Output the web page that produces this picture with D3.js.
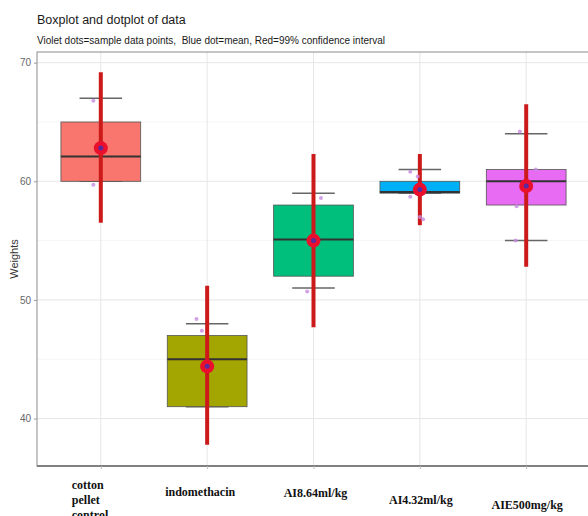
<!DOCTYPE html>
<html>
<head>
<meta charset="utf-8">
<script src="https://cdn.jsdelivr.net/npm/d3@7"></script>
<style>
  body { margin: 0; background: #fff; }
  svg { display: block; }
</style>
</head>
<body>
<div id="viz"></div>
<script>
// values
const categories = ['cotton pellet control', 'indomethacin', 'AI8.64ml/kg', 'AI4.32ml/kg', 'AIE500mg/kg'];
const labelLines = [['cotton', 'pellet', 'control'], ['indomethacin'], ['AI8.64ml/kg'], ['AI4.32ml/kg'], ['AIE500mg/kg']];
const boxColors = ['#F8766D', '#A3A500', '#00BF7D', '#00B0F6', '#E76BF3'];

const q1 = [60, 41, 52, 59, 58];
const medians = [62.1, 45, 55.1, 59.1, 60];
const q3 = [65, 47, 58, 60, 61];
const whiskerLow = [60, 41, 51, 59, 55];
const whiskerHigh = [67, 48, 59, 61, 64];
const means = [62.8, 44.4, 55, 59.3, 59.6];
const ciLow = [56.5, 37.8, 47.7, 56.3, 52.8];
const ciHigh = [69.2, 51.2, 62.3, 62.3, 66.5];

const dotGroups = [0, 0, 1, 1, 2, 2, 3, 3, 3, 3, 3, 4, 4, 4, 4];
const dotValues = [66.8, 59.7, 48.4, 47.4, 58.6, 50.7, 60.8, 60.4, 58.7, 57.0, 56.8, 64.2, 61.0, 57.9, 55.0];
const dotJitter = [-0.07, -0.07, -0.10, -0.05, 0.07, -0.06, -0.09, -0.02, -0.09, 0.0, 0.03, -0.06, 0.09, -0.09, -0.10];

const yTicks = [40, 50, 60, 70];
const yMinor = [45, 55, 65];

// label placement tweaks (the reference labels sit at uneven heights)
const labelShift = [{dx: -29, dy: -1, anchor: 'start'}, {dx: -7, dy: 6, anchor: 'middle'},
                    {dx: 2, dy: 7, anchor: 'middle'}, {dx: 1, dy: 14, anchor: 'middle'},
                    {dx: 1, dy: 19, anchor: 'middle'}];

const width = 588;
const height = 516;
const panel = {left: 37, top: 52, right: 590, bottom: 466};

const svg = d3.select('#viz')
    .append('svg')
    .attr('width', width)
    .attr('height', height);

const x = d3.scalePoint()
    .domain(categories)
    .range([panel.left, panel.right])
    .padding(0.6);
const step = x.step();

const y = d3.scaleLinear()
    .domain([36, 70.9])
    .range([panel.bottom, panel.top]);

// title
svg.append('text')
    .attr('x', 37).attr('y', 24)
    .attr('font-family', 'Liberation Sans, Arial, sans-serif')
    .attr('font-size', 12.5)
    .attr('fill', '#1a1a1a')
    .text('Boxplot and dotplot of data');

svg.append('text')
    .attr('x', 37).attr('y', 44)
    .attr('font-family', 'Liberation Sans, Arial, sans-serif')
    .attr('font-size', 10)
    .attr('fill', '#1a1a1a')
    .style('white-space', 'pre')
    .text('Violet dots=sample data points,  Blue dot=mean, Red=99% confidence interval');

// grid
const grid = svg.append('g');
grid.selectAll('.minor')
    .data(yMinor)
    .enter().append('line')
    .attr('x1', panel.left).attr('x2', panel.right)
    .attr('y1', d => y(d)).attr('y2', d => y(d))
    .attr('stroke', '#f2f2f2').attr('stroke-width', 0.8);
grid.selectAll('.major')
    .data(yTicks)
    .enter().append('line')
    .attr('x1', panel.left).attr('x2', panel.right)
    .attr('y1', d => y(d)).attr('y2', d => y(d))
    .attr('stroke', '#e6e6e6').attr('stroke-width', 1);
grid.selectAll('.vert')
    .data(categories)
    .enter().append('line')
    .attr('x1', d => x(d)).attr('x2', d => x(d))
    .attr('y1', panel.top).attr('y2', panel.bottom)
    .attr('stroke', '#e6e6e6').attr('stroke-width', 1);

// panel border
svg.append('rect')
    .attr('x', panel.left).attr('y', panel.top)
    .attr('width', panel.right - panel.left)
    .attr('height', panel.bottom - panel.top)
    .attr('fill', 'none')
    .attr('stroke', '#8c8c8c')
    .attr('stroke-width', 1);
svg.append('line')
    .attr('x1', panel.left).attr('x2', panel.right)
    .attr('y1', panel.bottom).attr('y2', panel.bottom)
    .attr('stroke', '#808080').attr('stroke-width', 1.8);

// y axis
const yAxis = svg.append('g')
    .attr('transform', `translate(${panel.left},0)`)
    .call(d3.axisLeft(y).tickValues(yTicks).tickSize(3).tickPadding(3));
yAxis.select('.domain').remove();
yAxis.selectAll('line').attr('stroke', '#999');
yAxis.selectAll('text')
    .attr('fill', '#666')
    .attr('font-size', 10)
    .attr('font-family', 'Liberation Sans, Arial, sans-serif');

svg.append('text')
    .attr('transform', `translate(18,${(panel.top + panel.bottom) / 2}) rotate(-90)`)
    .attr('text-anchor', 'middle')
    .attr('font-family', 'Liberation Sans, Arial, sans-serif')
    .attr('font-size', 11)
    .attr('fill', '#333')
    .text('Weights');

// x axis
const xAxis = svg.append('g')
    .attr('transform', `translate(0,${panel.bottom})`)
    .call(d3.axisBottom(x).tickSize(3).tickFormat(''));
xAxis.select('.domain').remove();
xAxis.selectAll('line').attr('stroke', '#bbb');

const xLabels = svg.append('g');
categories.forEach((c, i) => {
    const s = labelShift[i];
    const t = xLabels.append('text')
        .attr('x', x(c) + s.dx)
        .attr('y', 490 + s.dy)
        .attr('text-anchor', s.anchor)
        .attr('font-family', 'Liberation Serif, Times New Roman, serif')
        .attr('font-weight', 'bold')
        .attr('font-size', 12)
        .attr('fill', '#111');
    labelLines[i].forEach((line, k) => {
        t.append('tspan')
            .attr('x', x(c) + s.dx)
            .attr('dy', k === 0 ? 0 : 15)
            .text(line);
    });
});

// boxes
const boxW = step * 0.75;
const capW = step * 0.4;
const groups = svg.selectAll('.box')
    .data(categories)
    .enter().append('g')
    .attr('class', 'box');

groups.append('line')
    .attr('x1', d => x(d) - capW / 2).attr('x2', d => x(d) + capW / 2)
    .attr('y1', (d, i) => y(whiskerHigh[i])).attr('y2', (d, i) => y(whiskerHigh[i]))
    .attr('stroke', '#666').attr('stroke-width', 1.5);
groups.append('line')
    .attr('x1', d => x(d) - capW / 2).attr('x2', d => x(d) + capW / 2)
    .attr('y1', (d, i) => y(whiskerLow[i])).attr('y2', (d, i) => y(whiskerLow[i]))
    .attr('stroke', '#666').attr('stroke-width', 1.5);

groups.append('rect')
    .attr('x', d => x(d) - boxW / 2)
    .attr('width', boxW)
    .attr('y', (d, i) => y(q3[i]))
    .attr('height', (d, i) => y(q1[i]) - y(q3[i]))
    .attr('fill', (d, i) => boxColors[i])
    .attr('stroke', '#555')
    .attr('stroke-width', 0.8);

groups.append('line')
    .attr('x1', d => x(d) - boxW / 2).attr('x2', d => x(d) + boxW / 2)
    .attr('y1', (d, i) => y(medians[i])).attr('y2', (d, i) => y(medians[i]))
    .attr('stroke', '#333').attr('stroke-width', 2);

// sample dots
svg.selectAll('.dot')
    .data(dotValues)
    .enter().append('circle')
    .attr('cx', (d, i) => x(categories[dotGroups[i]]) + dotJitter[i] * step)
    .attr('cy', d => y(d))
    .attr('r', 2)
    .attr('fill', '#c58be0')
    .attr('opacity', 0.8);

// confidence interval
groups.append('line')
    .attr('x1', d => x(d)).attr('x2', d => x(d))
    .attr('y1', (d, i) => y(ciHigh[i])).attr('y2', (d, i) => y(ciLow[i]))
    .attr('stroke', '#cc1a1a').attr('stroke-width', 4);

// mean
groups.append('circle')
    .attr('cx', d => x(d))
    .attr('cy', (d, i) => y(means[i]))
    .attr('r', 7)
    .attr('fill', '#ea0f2d');
groups.append('circle')
    .attr('cx', d => x(d))
    .attr('cy', (d, i) => y(means[i]))
    .attr('r', 2.5)
    .attr('fill', '#5b2a9e');
</script>
</body>
</html>
